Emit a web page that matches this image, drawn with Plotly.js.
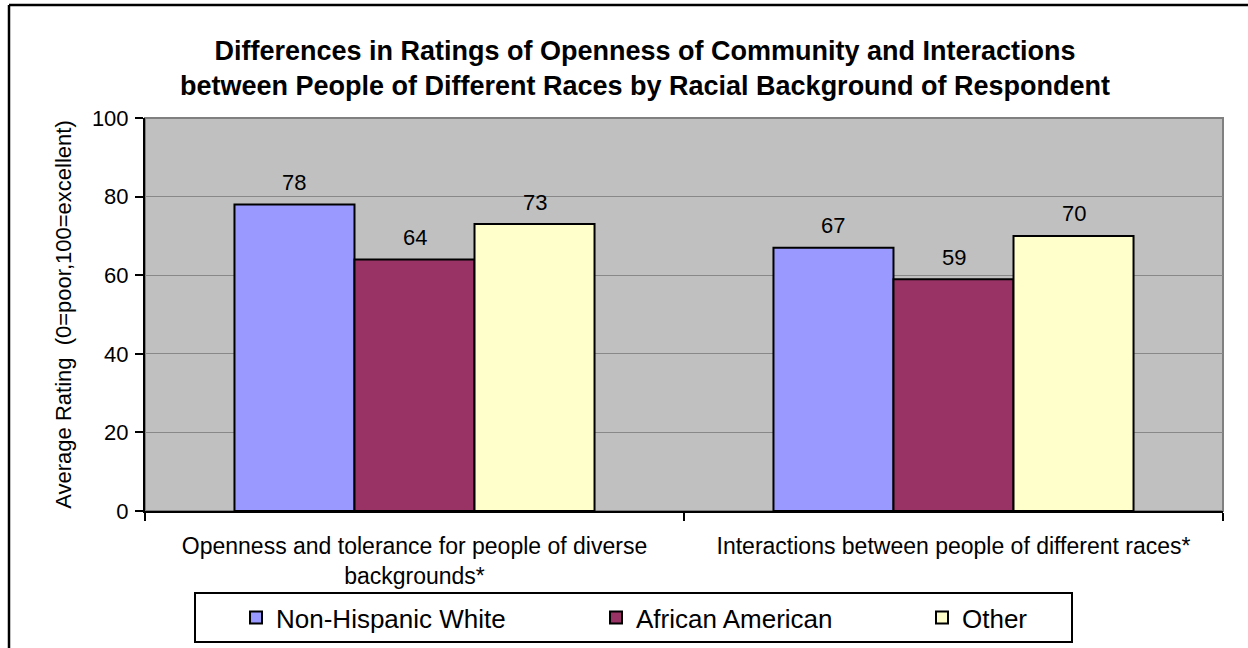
<!DOCTYPE html>
<html>
<head>
<meta charset="utf-8">
<script src="https://cdn.plot.ly/plotly-3.0.1.min.js"></script>
<style>
  html, body { margin: 0; padding: 0; background: #ffffff; }
  #chart { width: 1248px; height: 648px; }
</style>
</head>
<body>
<div id="chart"></div>
<script>
// ---- Data ----
const categories = [
  "Openness and tolerance for people of diverse<br>backgrounds*",
  "Interactions between people of different races*"
];
const seriesNames = ["Non-Hispanic White", "African American", "Other"];
const nonHispanicWhite = [78, 67];
const africanAmerican = [64, 59];
const other = [73, 70];
const yTickValues = [0, 20, 40, 60, 80, 100];

// ---- Style ----
const FONT = 'Arial, "Liberation Sans", sans-serif';
const colors = ["#9999FF", "#993366", "#FFFFCC"];
const W = 1248, H = 648;
const margin = { l: 145, r: 25, t: 118, b: 137, autoexpand: false };
const plotW = W - margin.l - margin.r;
const plotH = H - margin.t - margin.b;
const bargap = 0.332;
const seriesValues = [nonHispanicWhite, africanAmerican, other];
const legendWidths = [275, 241, 104];

const traces = seriesValues.map((vals, i) => ({
  type: "bar",
  name: seriesNames[i],
  x: categories,
  y: vals,
  marker: { color: colors[i], line: { color: "#000000", width: 2 } },
  legendwidth: legendWidths[i],
  hoverinfo: "x+y+name"
}));

// data labels above bars
const barPx = plotW / categories.length * (1 - bargap) / seriesValues.length;
const annotations = [];
seriesValues.forEach((vals, i) => {
  vals.forEach((v, j) => {
    annotations.push({
      x: categories[j], y: v, xref: "x", yref: "y",
      text: String(v), showarrow: false,
      xshift: (i - 1) * barPx, yshift: 22,
      yanchor: "middle", xanchor: "center",
      font: { family: FONT, size: 22, color: "#000000" }
    });
  });
});

// convert pixel to paper coords
const px = (x) => (x - margin.l) / plotW;
const py = (y) => (H - margin.b - y) / plotH;

const shapes = [
  { type: "rect", xref: "paper", yref: "paper", x0: 0, x1: 1, y0: 0, y1: 1,
    line: { color: "#808080", width: 2 }, layer: "below" },
  { type: "line", xref: "paper", yref: "paper", x0: px(9), x1: px(1260), y0: py(5), y1: py(5),
    line: { color: "#000000", width: 2.5 } },
  { type: "line", xref: "paper", yref: "paper", x0: px(9), x1: px(9), y0: py(5), y1: py(660),
    line: { color: "#000000", width: 2.5 } }
];

const layout = {
  width: W, height: H,
  margin: margin,
  paper_bgcolor: "#ffffff",
  plot_bgcolor: "#C0C0C0",
  font: { family: FONT, color: "#000000" },
  title: {
    text: "<b>Differences in Ratings of Openness of Community and Interactions<br>between People of Different Races by Racial Background of Respondent</b>",
    font: { family: FONT, size: 27, color: "#000000" },
    xref: "container", x: 645 / W, xanchor: "center",
    yref: "container", y: 1 - 60 / H, yanchor: "middle"
  },
  barmode: "group",
  bargap: bargap,
  bargroupgap: 0,
  xaxis: {
    type: "category", automargin: false,
    showline: true, linecolor: "#000000", linewidth: 2,
    ticks: "outside", tickson: "boundaries", ticklen: 8, tickwidth: 2, tickcolor: "#000000",
    ticklabelstandoff: 13,
    tickfont: { family: FONT, size: 23, color: "#000000" },
    showgrid: false, fixedrange: true
  },
  yaxis: {
    range: [0, 100], tickvals: yTickValues, automargin: false,
    showline: true, linecolor: "#000000", linewidth: 2,
    ticks: "outside", ticklen: 8, tickwidth: 2, tickcolor: "#000000",
    ticklabelstandoff: 2,
    tickfont: { family: FONT, size: 22, color: "#000000" },
    showgrid: true, gridcolor: "#888888", gridwidth: 1,
    zeroline: false,
    title: { text: "Average Rating  (0=poor,100=excellent)", font: { family: FONT, size: 22, color: "#000000" }, standoff: 14 },
    fixedrange: true
  },
  showlegend: true,
  legend: {
    orientation: "h",
    x: px(194), xanchor: "left",
    y: py(592), yanchor: "top",
    bgcolor: "#ffffff", bordercolor: "#000000", borderwidth: 2,
    indentation: 40,
    entrywidthmode: "pixels",
    font: { family: FONT, size: 26, color: "#000000" },
    traceorder: "normal"
  },
  annotations: annotations,
  shapes: shapes
};

Plotly.newPlot("chart", traces, layout, { displayModeBar: false, staticPlot: true });
</script>
</body>
</html>
